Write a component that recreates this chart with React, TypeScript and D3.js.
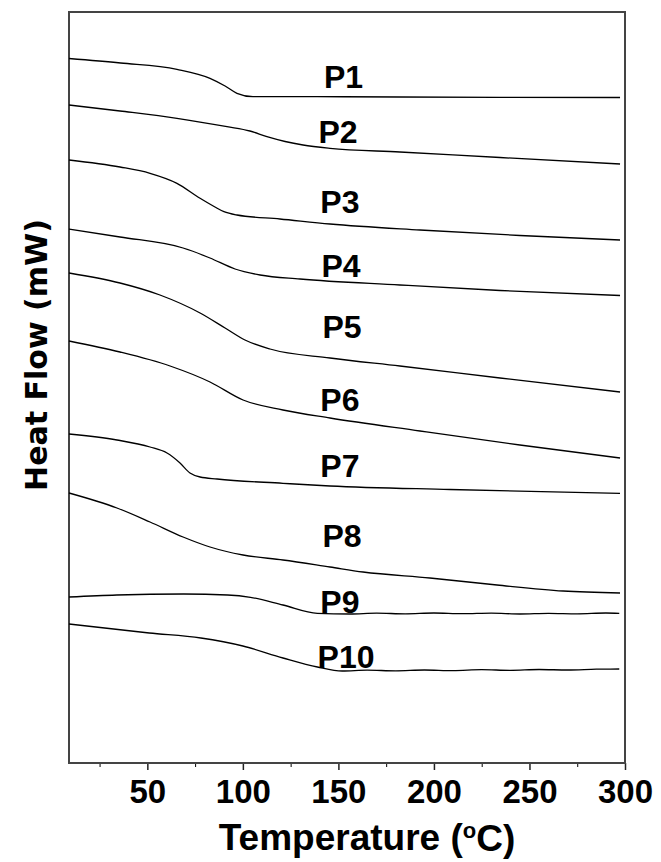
import React, { useEffect, useRef } from 'react';
import * as d3 from 'd3';

// x axis ticks (temperature, degC)
const tempTicks = [50, 100, 150, 200, 250, 300];
const minorTicks = [25, 75, 125, 175, 225, 275];

const sampleNames = ['P1', 'P2', 'P3', 'P4', 'P5', 'P6', 'P7', 'P8', 'P9', 'P10'];

// DSC traces, [temperature, heat flow (offset, a.u.)]
const p1 = [[9, 70.45], [36, 70.0], [65.5, 69.37], [82.8, 68.47], [90.7, 67.7], [96.9, 66.97], [105.3, 66.63], [138.8, 66.63], [182.2, 66.6], [234.6, 66.57], [297.4, 66.55]];
const p2 = [[9, 65.8], [35.7, 65.2], [65.5, 64.47], [91.7, 63.63], [103.7, 63.2], [112.6, 62.63], [122.1, 62.15], [131.5, 61.8], [145.6, 61.47], [182.2, 61.1], [234.6, 60.55], [297.4, 59.9]];
const p3 = [[9, 60.3], [35.7, 59.6], [51.4, 58.97], [65.5, 57.97], [77.6, 56.47], [85.4, 55.6], [90.1, 55.13], [96.9, 54.8], [119.4, 54.4], [145.6, 53.9], [192.7, 53.3], [245.0, 52.75], [297.4, 52.3]];
const p4 = [[9, 53.4], [35.7, 52.6], [68.7, 51.5], [82.8, 50.5], [95.9, 49.4], [109.0, 48.8], [129.9, 48.4], [182.2, 47.8], [234.6, 47.25], [297.4, 46.75]];
const p5 = [[9, 49.0], [35.7, 48.0], [56.6, 46.8], [77.6, 45.0], [90.7, 43.5], [101.1, 42.3], [114.2, 41.4], [145.6, 40.5], [182.2, 39.7], [234.6, 38.5], [297.4, 37.1]];
const p6 = [[9, 42.2], [35.7, 41.1], [61.9, 39.7], [82.8, 38.1], [100.1, 36.3], [121.0, 35.3], [145.6, 34.5], [192.7, 33.2], [245.0, 31.8], [297.4, 30.5]];
const p7 = [[9, 32.9], [34.1, 32.3], [51.4, 31.6], [60.3, 31.0], [67.1, 30.0], [72.3, 29.0], [77.6, 28.6], [86.5, 28.4], [121.0, 27.97], [145.6, 27.7], [208.4, 27.35], [297.4, 26.97]];
const p8 = [[9, 27.0], [34.1, 25.5], [51.4, 24.1], [68.7, 22.6], [82.8, 21.6], [100.1, 20.8], [121.0, 20.3], [145.6, 19.6], [162.9, 19.1], [197.9, 18.5], [233.0, 17.8], [267.6, 17.2], [297.4, 17.0]];
const p9 = [[9, 16.6], [34, 16.8], [69, 16.9], [92, 16.8], [104, 16.57], [121, 15.8], [139, 14.97], [156, 14.9], [170, 14.98], [185, 14.92], [200, 15.0], [215, 14.93], [230, 14.99], [245, 14.9], [260, 14.97], [275, 14.92], [290, 15.0], [297, 14.97]];
const p10 = [[9, 13.9], [51, 13.0], [78, 12.5], [100, 11.7], [121, 10.5], [139, 9.6], [152, 9.2], [165, 9.28], [180, 9.22], [195, 9.3], [210, 9.24], [225, 9.33], [240, 9.27], [255, 9.35], [270, 9.3], [285, 9.38], [297, 9.4]];

const series = [p1, p2, p3, p4, p5, p6, p7, p8, p9, p10];

// where each sample name sits, [temperature, heat flow]
const labelAt = [[152.7, 67.5], [149.8, 62.0], [150.8, 55.0], [151.4, 48.6], [151.9, 42.5], [150.8, 35.2], [150.8, 28.6], [151.9, 21.6], [150.8, 15.0], [154, 9.5]];

export default function App() {
    const ref = useRef<SVGSVGElement>(null);

    useEffect(() => {
        const svg = d3.select(ref.current);
        svg.selectAll('*').remove();

        const margin = { top: 12, right: 36, bottom: 99, left: 69 },
            width = 661 - margin.left - margin.right,
            height = 862 - margin.top - margin.bottom;

        const g = svg.append('g')
            .attr('transform', 'translate(' + margin.left + ',' + margin.top + ')');

        const x = d3.scaleLinear().domain([9, 300]).range([0, width]);
        const y = d3.scaleLinear().domain([0, 75.1]).range([height, 0]);

        // minor ticks
        g.append('g')
            .attr('transform', 'translate(0,' + height + ')')
            .call(d3.axisBottom(x).tickValues(minorTicks).tickSize(4).tickFormat(() => ''))
            .call(a => a.select('.domain').remove());

        // major ticks + labels
        const xAxis = g.append('g')
            .attr('transform', 'translate(0,' + height + ')')
            .call(d3.axisBottom(x).tickValues(tempTicks).tickSize(7));
        xAxis.select('.domain').remove();
        xAxis.selectAll('line').attr('stroke', '#222').attr('stroke-width', 1.5);
        xAxis.selectAll('text')
            .attr('y', 40)
            .attr('dy', 0)
            .attr('fill', '#000')
            .style('font-family', '"Liberation Sans", Arial, sans-serif')
            .style('font-weight', 'bold')
            .style('font-size', '33px');

        // frame
        g.append('rect')
            .attr('x', 0).attr('y', 0)
            .attr('width', width).attr('height', height)
            .attr('fill', 'none')
            .attr('stroke', '#444')
            .attr('stroke-width', 2);

        const line = d3.line<number[]>()
            .x(d => x(d[0]))
            .y(d => y(d[1]))
            .curve(d3.curveMonotoneX);

        g.selectAll('path.trace')
            .data(series)
            .enter()
            .append('path')
            .attr('class', 'trace')
            .attr('d', d => line(d))
            .attr('fill', 'none')
            .attr('stroke', '#000')
            .attr('stroke-width', 1.3);

        g.selectAll('text.name')
            .data(sampleNames)
            .enter()
            .append('text')
            .attr('class', 'name')
            .attr('x', (_, i) => x(labelAt[i][0]))
            .attr('y', (_, i) => y(labelAt[i][1]))
            .attr('text-anchor', 'middle')
            .style('font-family', '"Liberation Sans", Arial, sans-serif')
            .style('font-weight', 'bold')
            .style('font-size', '32px')
            .text(d => d);

        // axis titles
        const xt = svg.append('text')
            .attr('x', 367)
            .attr('y', 850)
            .attr('text-anchor', 'middle')
            .style('font-family', '"Liberation Sans", Arial, sans-serif')
            .style('font-weight', 'bold')
            .style('font-size', '37px');
        xt.append('tspan').text('Temperature (');
        xt.append('tspan').attr('dy', '-0.55em').style('font-size', '22px').text('o');
        xt.append('tspan').attr('dy', '0.35em').text('C)');

        svg.append('text')
            .attr('transform', 'translate(47,355) rotate(-90)')
            .attr('text-anchor', 'middle')
            .style('font-family', '"DejaVu Sans", Verdana, sans-serif')
            .style('font-weight', 'bold')
            .style('font-size', '30px')
            .text('Heat Flow (mW)');
    }, []);

    return (
        <svg ref={ref} width={661} height={862}
            style={{ position: 'absolute', left: 0, top: 0, background: '#fff' }} />
    );
}
